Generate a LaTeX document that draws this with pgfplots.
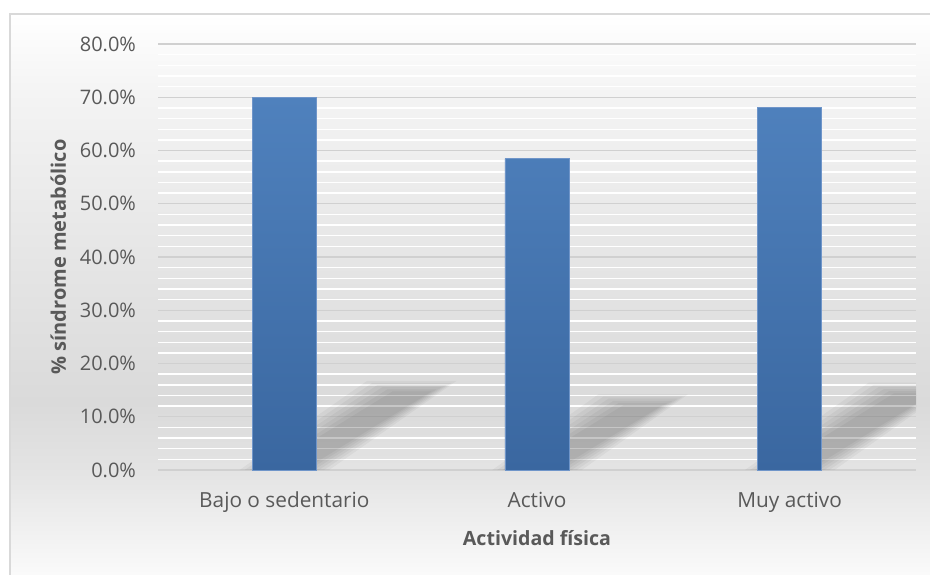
\documentclass[border=0pt]{standalone}
\usepackage{pgfplots}
\pgfplotsset{compat=1.18}
\usepackage{fontspec}
\setmainfont{Open Sans}
\definecolor{txt}{HTML}{595959}
\definecolor{framec}{HTML}{D9D9D9}
\definecolor{majgrid}{HTML}{D0D0D0}
\definecolor{btop}{HTML}{4F81BD}
\definecolor{bbot}{HTML}{3A67A0}
\definecolor{bedge}{HTML}{6F95C9}
\definecolor{bg0}{HTML}{FBFBFB}
\definecolor{bg1}{HTML}{E4E4E4}
\definecolor{bg2}{HTML}{DADADA}
\definecolor{bg3}{HTML}{E6E6E6}
\definecolor{bg4}{HTML}{F3F3F3}
\definecolor{bg5}{HTML}{FFFFFF}
\pgfdeclareverticalshading{bgshade}{100bp}{color(0bp)=(bg0); color(25bp)=(bg0); color(34.3bp)=(bg1); color(40.5bp)=(bg2); color(53.9bp)=(bg3); color(67.3bp)=(bg4); color(75bp)=(bg5); color(100bp)=(bg5)}
\begin{document}
\begin{tikzpicture}
\useasboundingbox (0,0) rectangle (465pt,287pt);
\shade[shading=bgshade] (5pt,-2pt) rectangle (470pt,280pt);
\draw[color=framec, line width=0.7pt] (5pt,-2pt) rectangle (470pt,280pt);
\begin{axis}[
  at={(79pt,52pt)}, anchor=south west,
  scale only axis, width=379pt, height=213pt,
  xmin=-0.5, xmax=2.5, ymin=0, ymax=80,
  xtick={0,1,2},
  xticklabels={Bajo o sedentario, Activo, Muy activo},
  ytick={0,10,...,80},
  minor y tick num=4,
  ymajorgrids, yminorgrids,
  major grid style={color=majgrid, line width=0.6pt},
  minor grid style={color=white, line width=0.7pt},
  axis line style={draw=none},
  tick style={draw=none},
  major tick length=0pt, minor tick length=0pt,
  /pgf/number format/assume math mode=true,
  yticklabel={\pgfmathprintnumber[fixed,fixed zerofill,precision=1]{\tick}\%},
  yticklabel style={font=\fontsize{10}{12}\selectfont, color=txt, xshift=-7.5pt},
  xticklabel style={font=\fontsize{10.4}{12}\selectfont, color=txt, yshift=-7.5pt},
  ylabel={\% síndrome metabólico},
  xlabel={Actividad física},
  every axis y label/.style={at={(axis description cs:-0.1316,0.5)}, rotate=90, anchor=center, font=\bfseries\fontsize{10}{12}\selectfont, color=txt},
  every axis x label/.style={at={(axis description cs:0.5,-0.1596)}, anchor=center, font=\bfseries\fontsize{9.8}{12}\selectfont, color=txt},
  shd/.style={fill=black, fill opacity=0.04, draw=none, forget plot},
]
% soft shadows (layered to imitate blur)
\addplot[shd] coordinates {(-0.177,0) (0.177,0) (0.682,16.75) (0.328,16.75)} -- cycle;
\addplot[shd] coordinates {(-0.157,0) (0.157,0) (0.662,16.35) (0.348,16.35)} -- cycle;
\addplot[shd] coordinates {(-0.137,0) (0.137,0) (0.642,15.95) (0.368,15.95)} -- cycle;
\addplot[shd] coordinates {(-0.117,0) (0.117,0) (0.622,15.55) (0.388,15.55)} -- cycle;
\addplot[shd] coordinates {(-0.097,0) (0.097,0) (0.602,15.15) (0.408,15.15)} -- cycle;
\addplot[shd] coordinates {(-0.077,0) (0.077,0) (0.582,14.75) (0.428,14.75)} -- cycle;
\addplot[shd] coordinates {(0.823,0) (1.177,0) (1.597,14.2) (1.243,14.2)} -- cycle;
\addplot[shd] coordinates {(0.843,0) (1.157,0) (1.577,13.8) (1.263,13.8)} -- cycle;
\addplot[shd] coordinates {(0.863,0) (1.137,0) (1.557,13.4) (1.283,13.4)} -- cycle;
\addplot[shd] coordinates {(0.883,0) (1.117,0) (1.537,13.0) (1.303,13.0)} -- cycle;
\addplot[shd] coordinates {(0.903,0) (1.097,0) (1.517,12.6) (1.323,12.6)} -- cycle;
\addplot[shd] coordinates {(0.923,0) (1.077,0) (1.497,12.2) (1.343,12.2)} -- cycle;
\addplot[shd] coordinates {(1.823,0) (2.177,0) (2.667,16.4) (2.313,16.4)} -- cycle;
\addplot[shd] coordinates {(1.843,0) (2.157,0) (2.647,16.0) (2.333,16.0)} -- cycle;
\addplot[shd] coordinates {(1.863,0) (2.137,0) (2.627,15.6) (2.353,15.6)} -- cycle;
\addplot[shd] coordinates {(1.883,0) (2.117,0) (2.607,15.2) (2.373,15.2)} -- cycle;
\addplot[shd] coordinates {(1.903,0) (2.097,0) (2.587,14.8) (2.393,14.8)} -- cycle;
\addplot[shd] coordinates {(1.923,0) (2.077,0) (2.567,14.4) (2.413,14.4)} -- cycle;
% bars
\addplot[ybar, bar width=0.254, draw=bedge, line width=0.4pt, top color=btop, bottom color=bbot] coordinates {(0,70.0) (1,58.5) (2,68.1)};
\end{axis}
\end{tikzpicture}
\end{document}
